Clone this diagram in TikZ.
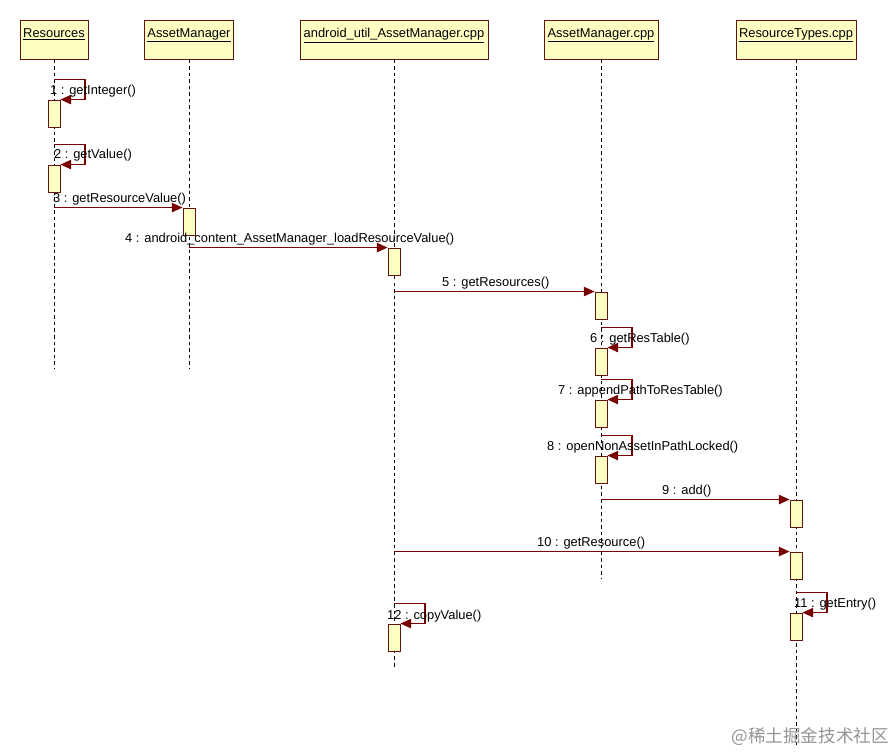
\documentclass[tikz,border=0pt]{standalone}
\usepackage{fontspec}
\setmainfont{Liberation Sans}
\newfontfamily\cjkfont{Noto Sans CJK SC}
\usepackage{xcolor}
\usepackage{tikz}
\usetikzlibrary{arrows.meta}

\definecolor{umlline}{RGB}{120,0,0}
\definecolor{umlbox}{RGB}{255,255,196}
\definecolor{umledge}{RGB}{100,20,10}

\begin{document}
\begin{tikzpicture}[x=0.03cm, y=-0.03cm, font=\fontsize{11}{13}\selectfont,
    obj/.style={draw=umledge, fill=umlbox, line width=0.75pt, minimum height=1.17cm, inner sep=0pt},
    act/.style={draw=umledge, fill=umlbox, line width=0.75pt, minimum width=0.36cm, minimum height=0.81cm, inner sep=0pt},
    life/.style={line width=0.8pt, dash pattern=on 3pt off 2.6pt},
    msg/.style={umlline, line width=0.95pt, -{Triangle[length=0.32cm, width=0.28cm]}},
    txt/.style={anchor=west, inner sep=0pt}]
        \useasboundingbox (0,0) rectangle (896,752);
        \foreach \nm/\x/\w/\t in {res/54/2.04/Resources, am/189/2.67/AssetManager,
            jni/394/5.64/android\_util\_AssetManager.cpp, amc/601/3.42/AssetManager.cpp,
            rt/796/3.6/ResourceTypes.cpp} {
          \node[obj, minimum width=\w cm] (\nm) at (\x,39.5) {};
          \node[anchor=north, inner sep=0pt] (\nm-t) at ([yshift=-0.26cm]\nm.north) {\underline{\t}};}
        \foreach \nm/\len in {res/309, am/309, jni/609, amc/519, rt/686} {
          \draw[life] (\nm.south) -- ++(0,\len) coordinate (\nm-end);}
        \foreach \i/\nm/\y in {1/res/100, 2/res/165, 3/am/208, 4/jni/248, 5/amc/292, 6/amc/348,
            7/amc/400, 8/amc/456, 9/rt/500, 10/rt/552, 11/rt/613, 12/jni/624} {
          \node[act] (a\i) at ([yshift=-0.405cm]\nm.center |- 0,\y) {};}
        \foreach \i in {1,2,6,7,8,11,12} {
          \draw[msg] (a\i.north) ++(0,-20) -- ++(31,0) |- (a\i.north east);}
        \draw[msg] (res |- a3.north) -- (a3.north west);
        \draw[msg] (am |- a4.north) -- (a4.north west);
        \draw[msg] (jni |- a5.north) -- (a5.north west);
        \draw[msg] (amc |- a9.north) -- (a9.north west);
        \draw[msg] (jni |- a10.north) -- (a10.north west);
        \node[txt] (l1) at (50,91) {1 : getInteger()};
        \node[txt] (l2) at (54,155) {2 : getValue()};
        \node[txt] (l3) at (53,199) {3 : getResourceValue()};
        \node[txt] (l4) at (125,239) {4 : android\_content\_AssetManager\_loadResourceValue()};
        \node[txt] (l5) at (442,283) {5 : getResources()};
        \node[txt] (l6) at (590,339) {6 : getResTable()};
        \node[txt] (l7) at (558,391) {7 : appendPathToResTable()};
        \node[txt] (l8) at (547,447) {8 : openNonAssetInPathLocked()};
        \node[txt] (l9) at (662,491) {9 : add()};
        \node[txt] (l10) at (537,543) {10 : getResource()};
        \node[txt] (l11) at (794,604) {11 : getEntry()};
        \node[txt] (l12) at (387,616) {12 : copyValue()};
        \node[anchor=east, inner sep=0pt, text=black!42, font=\cjkfont\fontsize{15}{18}\selectfont] (wm) at (889,737) {@稀土掘金技术社区};
      \end{tikzpicture}
\end{document}
